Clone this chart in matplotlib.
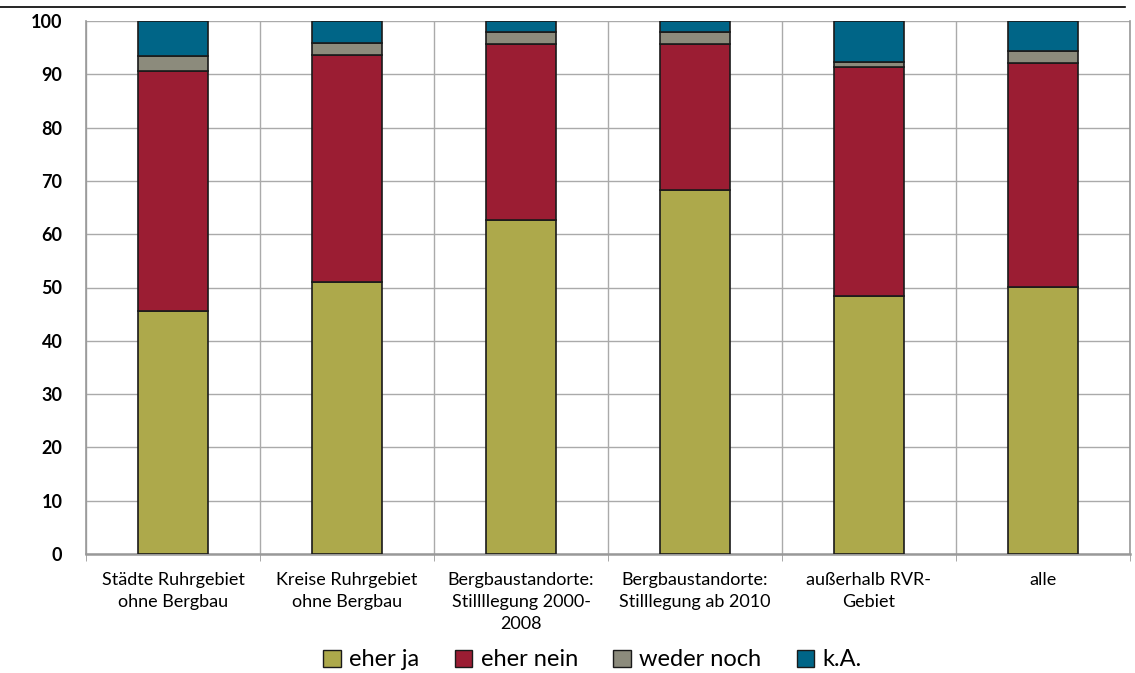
import numpy as np
import matplotlib.pyplot as plt
from matplotlib.patches import Patch

# Daten
kategorien = ['Städte Ruhrgebiet\nohne Bergbau', 'Kreise Ruhrgebiet\nohne Bergbau',
              'Bergbaustandorte:\nStillllegung 2000-\n2008', 'Bergbaustandorte:\nStilllegung ab 2010',
              'außerhalb RVR-\nGebiet', 'alle']
eher_ja = [45.6, 51.0, 62.7, 68.3, 48.4, 50.1]
eher_nein = [45.0, 42.6, 33.0, 27.4, 42.9, 42.0]
weder_noch = [2.8, 2.3, 2.2, 2.2, 1.1, 2.2]
k_a = [6.6, 4.1, 2.1, 2.1, 7.6, 5.7]

serien = ['eher ja', 'eher nein', 'weder noch', 'k.A.']
farben = ['#ADA94B', '#9B1D33', '#8C8B7C', '#006587']

plt.rcParams['font.family'] = ['Lato', 'DejaVu Sans']

fig = plt.figure(figsize=(11.35, 6.73), dpi=100)
ax = fig.add_axes([86 / 1135, 1 - 554 / 673, (1130 - 86) / 1135, (554 - 21) / 673])

x = np.arange(len(kategorien))
unten = np.zeros(len(kategorien))
for werte, farbe in zip([eher_ja, eher_nein, weder_noch, k_a], farben):
    ax.bar(x, werte, width=0.4, bottom=unten, color=farbe, edgecolor='#1a1a1a',
           linewidth=1.2, zorder=3)
    unten += np.array(werte)

ax.set_xlim(-0.5, len(kategorien) - 0.5)
ax.set_ylim(0, 100)
ax.set_yticks(range(0, 101, 10))
ax.set_yticklabels([str(v) for v in range(0, 101, 10)], fontsize=13, fontweight='bold')
ax.set_xticks(x)
ax.set_xticklabels(kategorien, fontsize=13, linespacing=1.45)
ax.tick_params(axis='x', length=0, pad=13)
ax.tick_params(axis='y', length=0, pad=17)
ax.set_xticks(np.arange(-0.5, len(kategorien), 1), minor=True)
ax.tick_params(axis='x', which='minor', length=5, color='#999999')

ax.grid(axis='y', color='#aaaaaa', linewidth=1, zorder=0)
ax.grid(axis='x', which='minor', color='#aaaaaa', linewidth=1, zorder=0)
ax.grid(axis='x', which='major', visible=False)
for s in ['left', 'bottom', 'top', 'right']:
    ax.spines[s].set_color('#999999')
    ax.spines[s].set_linewidth(1.2)
ax.spines['bottom'].set_linewidth(1.8)
ax.spines['top'].set_visible(False)

# Linie oben
fig.add_artist(plt.Line2D([0, 1125 / 1135], [1 - 7 / 673, 1 - 7 / 673], color='black', linewidth=1.2))

handles = [Patch(facecolor=f, edgecolor='#1a1a1a', label=s) for s, f in zip(serien, farben)]
fig.legend(handles=handles, loc='center', bbox_to_anchor=(0.522, 1 - 660 / 673), ncol=4,
           frameon=False, fontsize=17, handlelength=0.75, handleheight=0.75,
           handletextpad=0.35, columnspacing=1.5)

plt.savefig('out.png', dpi=100)
